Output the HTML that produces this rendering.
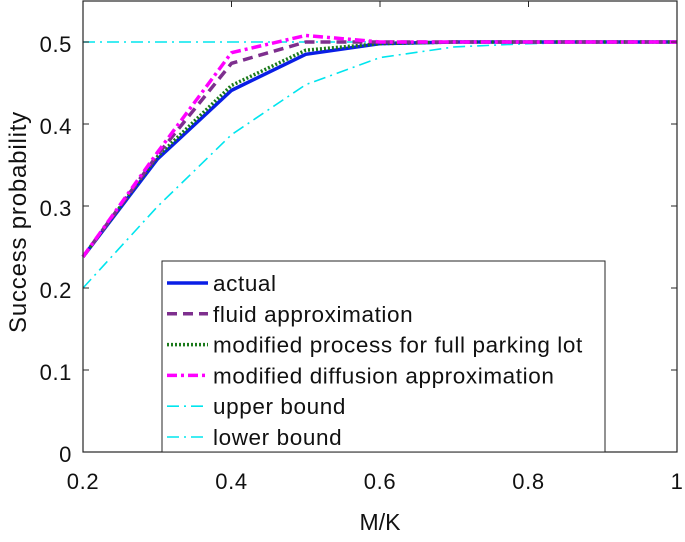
<!DOCTYPE html>
<html><head><meta charset="utf-8"><style>
body{margin:0;background:#fff}
svg text{font-family:"Liberation Sans",Arial,sans-serif;fill:#111}
</style></head><body>
<svg id="chart" width="685" height="537">
<g id="plot"></g>
<g id="axes"></g>
<g id="legend"></g>
</svg>
<script>
const xValues=[0.2,0.3,0.4,0.5,0.6,0.7,0.8,0.9,1.0];
const actual=[0.238,0.357,0.441,0.485,0.498,0.5,0.5,0.5,0.5];
const fluid=[0.238,0.362,0.474,0.5,0.5,0.5,0.5,0.5,0.5];
const modifiedProcess=[0.238,0.36,0.447,0.49,0.498,0.5,0.5,0.5,0.5];
const modifiedDiffusion=[0.238,0.365,0.487,0.508,0.5,0.5,0.5,0.5,0.5];
const upperBound=[0.5,0.5,0.5,0.5,0.5,0.5,0.5,0.5,0.5];
const lowerBound=[0.2,0.299,0.387,0.448,0.481,0.494,0.498,0.5,0.5];
const xTicks=[0.2,0.4,0.6,0.8,1];
const xTickLabels=["0.2","0.4","0.6","0.8","1"];
const yTicks=[0,0.1,0.2,0.3,0.4,0.5];
const yTickLabels=["0","0.1","0.2","0.3","0.4","0.5"];
const seriesNames=["actual","fluid approximation","modified process for full parking lot","modified diffusion approximation","upper bound","lower bound"];

const NS="http://www.w3.org/2000/svg";
const L=83,R=677,T=1,B=452;
const xs=v=>L+(v-0.2)/0.8*(R-L);
const ys=v=>B-v/0.55*(B-T);
function mk(tag,attrs,parent){const e=document.createElementNS(NS,tag);for(const k in attrs)e.setAttribute(k,attrs[k]);parent.appendChild(e);return e;}
const plot=document.getElementById('plot'),axes=document.getElementById('axes'),legend=document.getElementById('legend');

const styles=[
 {data:actual,stroke:"#0a1ee6",w:3.5,dash:""},
 {data:fluid,stroke:"#7e2f8e",w:3.5,dash:"10 6"},
 {data:modifiedProcess,stroke:"#1a7a1a",w:3.5,dash:"2 2"},
 {data:modifiedDiffusion,stroke:"#ff00ff",w:3.5,dash:"10 4 3 4"},
 {data:upperBound,stroke:"#00e5ee",w:1.6,dash:"12 5 2 5"},
 {data:lowerBound,stroke:"#00e5ee",w:1.6,dash:"12 5 2 5"}
];
const names=["series-actual","series-fluid","series-modified-process","series-modified-diffusion","series-upper-bound","series-lower-bound"];
[4,5,0,2,1,3].forEach(i=>{
 const s=styles[i];
 const p=mk('polyline',{points:s.data.map((v,j)=>xs(xValues[j])+','+ys(v)).join(' '),fill:'none',stroke:s.stroke,'stroke-width':s.w,'stroke-dasharray':s.dash,'stroke-linejoin':'round'},plot);
 
 
});

const box=mk('rect',{x:L,y:T,width:R-L,height:B-T,fill:'none',stroke:'#262626','stroke-width':1.2},axes);


xTicks.forEach((v,i)=>{
 mk('line',{x1:xs(v),x2:xs(v),y1:B,y2:B-6,stroke:'#262626'},axes);
 mk('line',{x1:xs(v),x2:xs(v),y1:T,y2:T+6,stroke:'#262626'},axes);
 const t=mk('text',{x:xs(v),y:489,'text-anchor':'middle','font-size':22,'letter-spacing':0.6},axes);t.textContent=xTickLabels[i];
 
 
});
yTicks.forEach((v,i)=>{
 mk('line',{x1:L,x2:L+6,y1:ys(v),y2:ys(v),stroke:'#262626'},axes);
 mk('line',{x1:R,x2:R-6,y1:ys(v),y2:ys(v),stroke:'#262626'},axes);
 const t=mk('text',{x:72,y:ys(v)+10,'text-anchor':'end','font-size':22,'letter-spacing':0.6},axes);t.textContent=yTickLabels[i];
 
 
});
const xt=mk('text',{x:380,y:530,'text-anchor':'middle','font-size':23},axes);xt.textContent="M/K";


const yt=mk('text',{x:26,y:222,'text-anchor':'middle','font-size':24,'letter-spacing':0.8,transform:'rotate(-90 26 222)'},axes);yt.textContent="Success probability";



const lb=mk('rect',{x:162,y:261,width:443,height:191,fill:'#fff',stroke:'#262626','stroke-width':1},legend);


seriesNames.forEach((n,i)=>{
 const y=283+i*30.8,s=styles[i];
 const g=mk('g',{},legend);
 
 
 mk('line',{x1:167,x2:208,y1:y,y2:y,stroke:s.stroke,'stroke-width':s.w,'stroke-dasharray':s.dash},g);
 const t=mk('text',{x:213,y:y+8,'font-size':22.5,'letter-spacing':0.6},g);t.textContent=n;
});
</script>
</body></html>
